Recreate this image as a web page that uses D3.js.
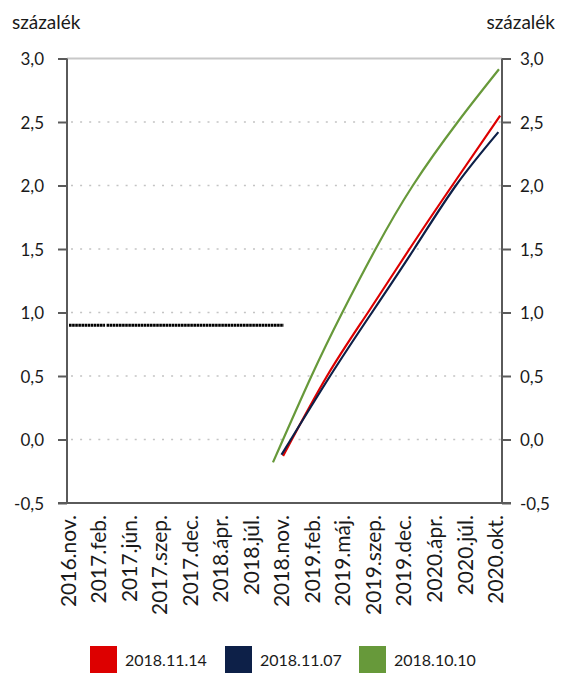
<!DOCTYPE html>
<html>
<head>
<meta charset="utf-8">
<script src="https://cdn.jsdelivr.net/npm/d3@7"></script>
<style>
  html, body { margin: 0; padding: 0; background: #fff; }
  svg { display: block; font-family: Lato, "Noto Sans", sans-serif; }
</style>
</head>
<body>
<svg id="chart" width="563" height="675"></svg>
<script>
// ---- data ----
const categories = ["2016.nov.","2017.feb.","2017.jún.","2017.szep.","2017.dec.","2018.ápr.","2018.júl.","2018.nov.","2019.feb.","2019.máj.","2019.szep.","2019.dec.","2020.ápr.","2020.júl.","2020.okt."];
const yTicks = [-0.5, 0, 0.5, 1, 1.5, 2, 2.5, 3];
const yTickLabels = ["-0,5","0,0","0,5","1,0","1,5","2,0","2,5","3,0"];
const axisTitle = "százalék";
const seriesNames = ["2018.11.14", "2018.11.07", "2018.10.10"];

// positions are in category-label units (0 = 2016.nov., 14 = 2020.okt.)
const historyX = [0.05, 1.23, 1.25, 1.28, 7.08];
const historyY = [0.90, 0.90, null, 0.90, 0.90];

const redX = [7.06, 8.50, 9.84, 11.20, 12.60, 14.17];
const redY = [-0.13, 0.50, 1.00, 1.50, 2.00, 2.55];

const navyX = [7.01, 8.60, 9.97, 11.35, 12.72, 14.11];
const navyY = [-0.12, 0.50, 1.00, 1.50, 2.00, 2.42];

const greenX = [6.73, 7.99, 9.00, 10.09, 11.31, 12.78, 14.13];
const greenY = [-0.18, 0.50, 1.00, 1.50, 2.00, 2.50, 2.915];

const colors = ["#dd0000", "#0d2048", "#67993a"];

// ---- layout ----
const plotL = 67, plotR = 502, plotT = 58.5, plotB = 503;
const svg = d3.select("#chart");

const x = d3.scaleLinear().domain([0, categories.length - 1]).range([67.5, 495]);
const y = d3.scaleLinear().domain([-0.5, 3]).range([plotB, plotT]);

// gridlines
const grid = svg.append("g");
grid.selectAll("line.g").data(yTicks.filter(v => v > -0.5 && v < 3)).enter().append("line")
  .attr("x1", plotL + 4).attr("x2", plotR)
  .attr("y1", d => y(d)).attr("y2", d => y(d))
  .attr("stroke", "#c4c4c4").attr("stroke-width", 1.6)
  .attr("stroke-dasharray", "2,7.1");
grid.append("line")
  .attr("x1", plotL).attr("x2", plotR)
  .attr("y1", y(3)).attr("y2", y(3))
  .attr("stroke", "#c8c8c8").attr("stroke-width", 2);

// axes
const axisColor = "#5a5a5a";
const leftAxis = d3.axisLeft(y).tickValues(yTicks).tickSize(9).tickFormat((d, i) => yTickLabels[i]);
const rightAxis = d3.axisRight(y).tickValues(yTicks).tickSize(9).tickFormat((d, i) => yTickLabels[i]);

function styleAxis(g) {
  g.select(".domain").remove();
  g.selectAll(".tick line").attr("stroke", axisColor).attr("stroke-width", 2);
  g.selectAll(".tick text").attr("fill", "#1a1a1a").style("font-size", "17px")
    .style("font-family", "Lato, 'Noto Sans', sans-serif");
}
const gl = svg.append("g").attr("transform", `translate(${plotL},0)`).call(leftAxis);
styleAxis(gl);
gl.selectAll(".tick text").attr("x", -23).attr("dy", "0.38em");
const gr = svg.append("g").attr("transform", `translate(${plotR},0)`).call(rightAxis);
styleAxis(gr);
gr.selectAll(".tick text").attr("x", 18).attr("dy", "0.38em");

svg.append("line").attr("x1", plotL).attr("x2", plotL).attr("y1", plotT).attr("y2", plotB)
  .attr("stroke", axisColor).attr("stroke-width", 2);
svg.append("line").attr("x1", plotR).attr("x2", plotR).attr("y1", plotT).attr("y2", plotB)
  .attr("stroke", axisColor).attr("stroke-width", 2);
svg.append("line").attr("x1", plotL - 9).attr("x2", plotR + 9).attr("y1", plotB).attr("y2", plotB)
  .attr("stroke", axisColor).attr("stroke-width", 2);

// x axis labels
const bottomAxis = d3.axisBottom(x).tickValues(d3.range(categories.length)).tickSize(0)
  .tickFormat(i => categories[i]);
const gb = svg.append("g").attr("transform", `translate(0,${plotB})`).call(bottomAxis);
gb.select(".domain").remove();
gb.selectAll(".tick text")
  .attr("fill", "#1a1a1a")
  .style("font-size", "21px")
  .style("font-family", "Lato, 'Noto Sans', sans-serif")
  .attr("text-anchor", "end")
  .attr("transform", "rotate(-90)")
  .attr("x", -12).attr("y", 0).attr("dy", "0.36em");

// axis titles
svg.append("text").attr("x", 12).attr("y", 29).text(axisTitle)
  .attr("fill", "#1a1a1a").style("font-size", "19px");
svg.append("text").attr("x", 555).attr("y", 29).attr("text-anchor", "end").text(axisTitle)
  .attr("fill", "#1a1a1a").style("font-size", "19px");

// lines
const line = d3.line()
  .x(d => x(d[0])).y(d => y(d[1]))
  .curve(d3.curveNatural);

const zip = (xs, ys) => xs.map((v, i) => [v, ys[i]]);

svg.append("path").datum(zip(historyX, historyY))
  .attr("d", d3.line().defined(d => d[1] !== null).x(d => x(d[0])).y(d => y(d[1])))
  .attr("fill", "none").attr("stroke", "#000").attr("stroke-width", 3)
  .attr("stroke-dasharray", "2.6,0.5");

const series = [
  {data: zip(greenX, greenY), color: colors[2]},
  {data: zip(redX, redY), color: colors[0]},
  {data: zip(navyX, navyY), color: colors[1]}
];
svg.selectAll("path.s").data(series).enter().append("path")
  .attr("class", "s")
  .attr("d", d => line(d.data))
  .attr("fill", "none")
  .attr("stroke", d => d.color)
  .attr("stroke-width", 2.2);

// legend
const legendX = [90, 225, 359];
const lg = svg.append("g");
seriesNames.forEach((name, i) => {
  lg.append("rect").attr("x", legendX[i]).attr("y", 646).attr("width", 27).attr("height", 27)
    .attr("fill", colors[i]);
  lg.append("text").attr("x", legendX[i] + 35).attr("y", 660).attr("dy", "0.36em")
    .text(name).attr("fill", "#1a1a1a").style("font-size", "16px");
});
</script>
</body>
</html>
